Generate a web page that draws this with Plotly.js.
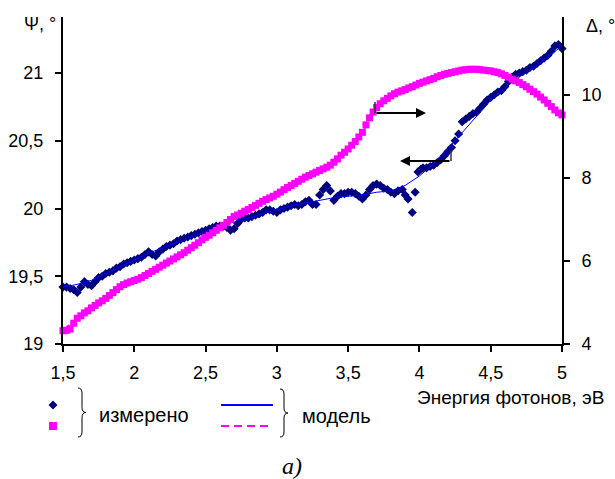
<!DOCTYPE html>
<html>
<head>
<meta charset="utf-8">
<script src="https://cdn.plot.ly/plotly-3.0.1.min.js"></script>
<style>
html,body{margin:0;padding:0;background:#fff;}
#chart{width:615px;height:479px;}
</style>
</head>
<body>
<div id="chart"></div>
<script>
// Photon energy, eV — measured Psi (left axis)
const psiE = [1.500,1.525,1.550,1.575,1.600,1.625,1.650,1.675,1.700,1.725,1.750,1.775,1.800,1.825,1.850,1.875,1.900,1.925,1.950,1.975,
  2.000,2.025,2.050,2.075,2.100,2.125,2.150,2.175,2.200,2.225,2.250,2.275,2.300,2.325,2.350,2.375,2.400,2.425,2.450,2.475,
  2.500,2.525,2.550,2.575,2.600,2.625,2.650,2.675,2.700,2.725,2.750,2.775,2.800,2.825,2.850,2.875,2.900,2.925,2.950,2.975,
  3.000,3.025,3.050,3.075,3.100,3.125,3.150,3.175,3.200,3.225,3.250,3.275,3.300,3.325,3.350,3.375,3.400,3.425,3.450,3.475,
  3.500,3.525,3.550,3.575,3.600,3.625,3.650,3.675,3.700,3.725,3.750,3.775,3.800,3.825,3.850,3.880,3.900,3.920,3.950,3.970,
  3.990,4.010,4.025,4.050,4.075,4.100,4.125,4.150,4.175,4.200,4.225,4.250,4.275,4.300,4.325,4.350,4.375,4.400,4.425,4.450,
  4.475,4.500,4.525,4.550,4.575,4.600,4.625,4.650,4.675,4.700,4.725,4.750,4.775,4.800,4.825,4.850,4.875,4.900,4.925,4.950,
  4.975,5.000];
const psiMeas = [19.42,19.42,19.41,19.40,19.38,19.42,19.46,19.44,19.43,19.46,19.49,19.50,19.52,19.53,19.54,19.56,19.57,19.59,19.60,19.61,
  19.62,19.63,19.64,19.66,19.68,19.66,19.65,19.68,19.70,19.72,19.73,19.74,19.76,19.77,19.78,19.79,19.80,19.81,19.82,19.83,
  19.84,19.85,19.86,19.87,19.87,19.87,19.86,19.84,19.85,19.89,19.92,19.93,19.93,19.94,19.95,19.96,19.97,19.99,19.99,19.98,
  19.97,19.99,20.00,20.01,20.02,20.03,20.02,20.03,20.05,20.06,20.03,20.03,20.10,20.14,20.17,20.13,20.06,20.09,20.11,20.11,
  20.12,20.12,20.11,20.09,20.07,20.10,20.14,20.17,20.18,20.17,20.15,20.14,20.12,20.11,20.13,20.14,20.10,20.07,19.97,20.12,
  20.27,20.29,20.30,20.30,20.31,20.32,20.34,20.36,20.39,20.42,20.45,20.50,20.55,20.64,20.66,20.68,20.70,20.71,20.74,20.77,
  20.80,20.82,20.84,20.86,20.87,20.90,20.94,20.97,20.99,21.00,21.01,21.02,21.04,21.05,21.07,21.09,21.11,21.13,21.16,21.20,
  21.21,21.18];

// measured Delta (right axis)
const delE = [1.500,1.525,1.550,1.575,1.600,1.625,1.650,1.675,1.700,1.725,1.750,1.775,1.800,1.825,1.850,1.875,1.900,1.925,1.950,1.975,
  2.000,2.025,2.050,2.075,2.100,2.125,2.150,2.175,2.200,2.225,2.250,2.275,2.300,2.325,2.350,2.375,2.400,2.425,2.450,2.475,
  2.500,2.525,2.550,2.575,2.600,2.625,2.650,2.675,2.700,2.725,2.750,2.775,2.800,2.825,2.850,2.875,2.900,2.925,2.950,2.975,
  3.000,3.025,3.050,3.075,3.100,3.125,3.150,3.175,3.200,3.225,3.250,3.275,3.300,3.325,3.350,3.375,3.400,3.425,3.450,3.475,
  3.500,3.525,3.550,3.575,3.600,3.625,3.650,3.675,3.700,3.725,3.750,3.775,3.800,3.825,3.850,3.875,3.900,3.925,3.950,3.975,
  4.000,4.025,4.050,4.075,4.100,4.125,4.150,4.175,4.200,4.225,4.250,4.275,4.300,4.325,4.350,4.375,4.400,4.425,4.450,4.475,
  4.500,4.525,4.550,4.575,4.600,4.625,4.650,4.675,4.700,4.725,4.750,4.775,4.800,4.825,4.850,4.875,4.900,4.925,4.950,4.975,
  5.000];
const delMeas = [4.32,4.33,4.36,4.50,4.62,4.68,4.75,4.80,4.87,4.93,4.99,5.04,5.10,5.17,5.24,5.31,5.38,5.43,5.47,5.50,
  5.53,5.56,5.60,5.65,5.70,5.75,5.80,5.85,5.90,5.95,6.00,6.05,6.10,6.15,6.20,6.26,6.32,6.38,6.44,6.51,
  6.57,6.62,6.68,6.74,6.80,6.86,6.93,7.00,7.07,7.11,7.15,7.20,7.24,7.29,7.34,7.39,7.44,7.48,7.52,7.56,
  7.61,7.66,7.72,7.77,7.82,7.87,7.92,7.97,8.02,8.06,8.10,8.14,8.18,8.22,8.26,8.31,8.38,8.46,8.55,8.62,
  8.70,8.79,8.88,8.99,9.10,9.28,9.45,9.59,9.70,9.79,9.86,9.92,9.98,10.03,10.07,10.10,10.13,10.17,10.20,10.24,
  10.28,10.31,10.34,10.37,10.40,10.44,10.47,10.50,10.52,10.54,10.56,10.58,10.60,10.61,10.62,10.62,10.62,10.61,10.60,10.59,
  10.58,10.56,10.54,10.51,10.47,10.43,10.38,10.34,10.30,10.25,10.20,10.14,10.08,10.02,9.95,9.88,9.80,9.72,9.64,9.57,
  9.52];

// model curves
const modE = [1.5,1.6,1.7,1.8,1.9,2.0,2.1,2.2,2.3,2.4,2.5,2.6,2.7,2.8,2.9,3.0,3.1,3.2,3.3,3.4,3.5,3.6,3.7,3.8,3.9,4.0,4.1,4.2,4.3,4.4,4.5,4.6,4.7,4.8,4.9,5.0];
const psiModel = [19.42,19.44,19.47,19.52,19.57,19.62,19.67,19.71,19.75,19.79,19.83,19.87,19.90,19.93,19.96,19.99,20.02,20.04,20.06,20.08,20.09,20.10,20.12,20.13,20.17,20.24,20.33,20.44,20.56,20.68,20.80,20.89,20.97,21.04,21.12,21.20];
const delModel = [4.34,4.62,4.86,5.10,5.38,5.53,5.70,5.90,6.10,6.32,6.57,6.80,7.07,7.24,7.44,7.61,7.82,8.02,8.18,8.38,8.70,9.10,9.70,9.98,10.13,10.28,10.40,10.52,10.60,10.62,10.58,10.47,10.30,10.08,9.80,9.52];

// tick labels
const xTicks = [1.5,2,2.5,3,3.5,4,4.5,5];
const xTickText = ['1,5','2','2,5','3','3,5','4','4,5','5'];
const yTicks = [19,19.5,20,20.5,21];
const yTickText = ['19','19,5','20','20,5','21'];
const y2Ticks = [4,6,8,10];
const y2TickText = ['4','6','8','10'];

const NAVY = '#000080', MAG = '#FF00FF', BLUE = '#0000FF';
const FONT = 'Liberation Sans, Arial, sans-serif';

// pixel -> paper helpers (plot area 63..562 x 17..344)
const L = 63, R = 562, T = 17, B = 344;
const px = x => (x - L) / (R - L);
const py = y => (B - y) / (B - T);

const traces = [
  {x: modE, y: delModel, yaxis: 'y2', mode: 'lines', line: {color: MAG, width: 1.5, dash: '8px,5px'}, cliponaxis: false, hoverinfo: 'skip'},
  {x: delE, y: delMeas, yaxis: 'y2', mode: 'markers', marker: {symbol: 'square', size: 7, color: MAG}, cliponaxis: false},
  {x: psiE, y: psiMeas, yaxis: 'y', mode: 'markers', marker: {symbol: 'diamond', size: 7, color: NAVY}, cliponaxis: false},
  {x: modE, y: psiModel, yaxis: 'y', mode: 'lines', line: {color: BLUE, width: 1}, cliponaxis: false}
];

function brace(x, y0, y1) {
  const m = (y0 + y1) / 2, w = 4;
  const pts = [
    ['M', x - w, y0], ['Q', x, y0, x, y0 + 5], ['L', x, m - 5], ['Q', x, m, x + w, m],
    ['Q', x, m, x, m + 5], ['L', x, y1 - 5], ['Q', x, y1, x - w, y1]
  ];
  return pts.map(p => {
    let s = p[0];
    for (let i = 1; i < p.length; i += 2) s += ' ' + px(p[i]).toFixed(5) + ',' + py(p[i + 1]).toFixed(5);
    return s;
  }).join(' ');
}

const shapes = [
  // arrow stems
  {type: 'line', xref: 'paper', yref: 'paper', x0: px(375), x1: px(375), y0: py(102), y1: py(113), line: {color: '#333', width: 1.5}},
  {type: 'line', xref: 'paper', yref: 'paper', x0: px(451), x1: px(451), y0: py(150), y1: py(161), line: {color: '#333', width: 1.5}},
  // legend braces
  {type: 'path', xref: 'paper', yref: 'paper', path: brace(82, 388, 437), line: {color: '#000', width: 1}},
  {type: 'path', xref: 'paper', yref: 'paper', path: brace(284, 389, 437), line: {color: '#000', width: 1}},
  // legend model lines
  {type: 'line', xref: 'paper', yref: 'paper', x0: px(221), x1: px(273), y0: py(405), y1: py(405), line: {color: BLUE, width: 2}},
  {type: 'line', xref: 'paper', yref: 'paper', x0: px(221), x1: px(273), y0: py(426), y1: py(426), line: {color: MAG, width: 2, dash: '8px,5px'}},
  // legend markers
  {type: 'path', xref: 'paper', yref: 'paper', path: 'M ' + px(53) + ',' + py(400.5) + ' L ' + px(57.5) + ',' + py(405) + ' L ' + px(53) + ',' + py(409.5) + ' L ' + px(48.5) + ',' + py(405) + ' Z', fillcolor: NAVY, line: {width: 0}},
  {type: 'rect', xref: 'paper', yref: 'paper', x0: px(49), x1: px(57), y0: py(422), y1: py(430), fillcolor: MAG, line: {width: 0}}
];

const annotations = [
  // arrows
  {xref: 'paper', yref: 'paper', x: px(426), y: py(113), ax: px(375), ay: py(113), axref: 'paper', ayref: 'paper', showarrow: true, arrowhead: 2, arrowsize: 1, arrowwidth: 2, arrowcolor: '#000', text: ''},
  {xref: 'paper', yref: 'paper', x: px(400), y: py(161), ax: px(451), ay: py(161), axref: 'paper', ayref: 'paper', showarrow: true, arrowhead: 2, arrowsize: 1, arrowwidth: 2, arrowcolor: '#000', text: ''},
  // axis titles
  {xref: 'paper', yref: 'paper', x: px(58), y: py(24), xanchor: 'right', yanchor: 'middle', showarrow: false, text: 'Ψ, °', font: {family: FONT, size: 18, color: '#000'}},
  {xref: 'paper', yref: 'paper', x: px(584), y: py(26), xanchor: 'left', yanchor: 'middle', showarrow: false, text: 'Δ, °', font: {family: FONT, size: 18, color: '#000'}},
  {xref: 'paper', yref: 'paper', x: px(415), y: py(398), xanchor: 'left', yanchor: 'middle', showarrow: false, text: 'Энергия фотонов, эВ', font: {family: FONT, size: 19, color: '#000'}},
  // legend text
  {xref: 'paper', yref: 'paper', x: px(97), y: py(415), xanchor: 'left', yanchor: 'middle', showarrow: false, text: 'измерено', font: {family: FONT, size: 20, color: '#000'}},
  {xref: 'paper', yref: 'paper', x: px(300), y: py(416), xanchor: 'left', yanchor: 'middle', showarrow: false, text: 'модель', font: {family: FONT, size: 20, color: '#000'}},
  // caption
  {xref: 'paper', yref: 'paper', x: px(292), y: py(466), xanchor: 'center', yanchor: 'middle', showarrow: false, text: '<i>а)</i>', font: {family: 'Liberation Serif, Times New Roman, serif', size: 24, color: '#000'}}
];

const axisCommon = {
  showgrid: false, zeroline: false, showline: true, linecolor: '#000', linewidth: 2,
  ticks: 'outside', ticklen: 6, tickwidth: 2, tickcolor: '#000',
  tickfont: {family: FONT, size: 18, color: '#000'}, fixedrange: true
};

const layout = {
  width: 615, height: 479,
  margin: {l: L, r: 615 - R, t: T, b: 479 - B},
  paper_bgcolor: '#fff', plot_bgcolor: '#fff',
  showlegend: false,
  xaxis: Object.assign({}, axisCommon, {range: [1.5, 5], tickvals: xTicks, ticktext: xTickText, ticklabelstandoff: 5}),
  yaxis: Object.assign({}, axisCommon, {range: [19, 19 + 327 / 135.5], tickvals: yTicks, ticktext: yTickText, ticklabelstandoff: 8}),
  yaxis2: Object.assign({}, axisCommon, {range: [4, 4 + 327 / 41.5], tickvals: y2Ticks, ticktext: y2TickText, overlaying: 'y', side: 'right', ticklabelstandoff: 8}),
  shapes: shapes,
  annotations: annotations
};

Plotly.newPlot('chart', traces, layout, {displayModeBar: false, staticPlot: true});
</script>
</body>
</html>
